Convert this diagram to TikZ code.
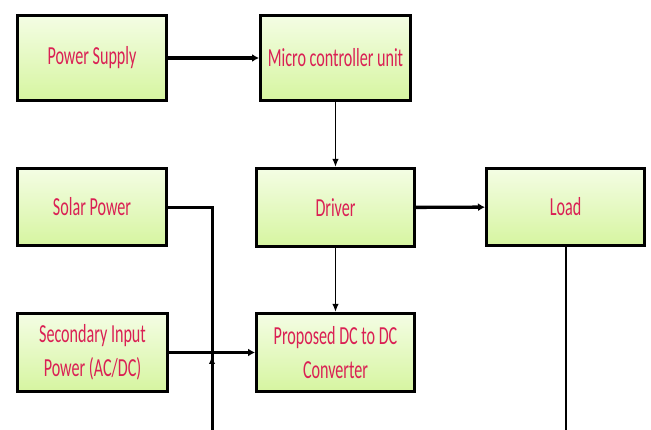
\documentclass[tikz,border=0pt]{standalone}
\usepackage{fontspec}
\newfontfamily\lbl[FakeStretch=0.62]{Carlito}
\usetikzlibrary{arrows.meta,shadows}
\definecolor{txt}{RGB}{218,32,84}
\definecolor{topg}{RGB}{244,253,228}
\definecolor{botg}{RGB}{214,245,160}
\tikzset{
  blk/.style={draw=black,line width=3pt,top color=topg,bottom color=botg,
    drop shadow={shadow xshift=1.5pt,shadow yshift=-1.5pt,opacity=0.25,fill=black!60},
    font=\lbl\fontsize{26}{34}\selectfont,text=txt,align=center,inner sep=0pt},
  thickarr/.style={line width=3.4pt,-{Latex[length=7pt,width=8pt]}},
  thinarr/.style={line width=1.8pt,-{Latex[length=8pt,width=6.5pt]}},
  thickln/.style={line width=3pt},
  thinln/.style={line width=2pt}
}
\begin{document}
\begin{tikzpicture}[x=1pt,y=-1pt]
\useasboundingbox (0,0) rectangle (651,430);
\begin{scope}
\clip (0,0) rectangle (651,430);
\node[blk,minimum width=149pt,minimum height=85pt] (ps) at (92,58) {Power Supply};
\node[blk,minimum width=150pt,minimum height=85pt] (mcu) at (335.5,58) {Micro controller unit};
\node[blk,minimum width=149pt,minimum height=77pt] (sol) at (92,207) {Solar Power};
\node[blk,minimum width=158pt,minimum height=78pt] (drv) at (335.5,207.5) {Driver};
\node[blk,minimum width=158pt,minimum height=77pt] (load) at (565.5,207) {Load};
\node[blk,minimum width=150pt,minimum height=78pt] (sec) at (92.5,352.5) {Secondary Input\\Power (AC/DC)};
\node[blk,minimum width=158pt,minimum height=78pt] (conv) at (335.5,352.5) {Proposed DC to DC\\Converter};
\coordinate (sj) at (212,208);
\coordinate (sb) at (212,440);
\coordinate (lb) at (565.5,440);
\coordinate (fj) at (212,356);
\draw[thickarr] (ps) -- (mcu);
\draw[thinarr] (mcu) -- (drv);
\draw[thickarr] (drv) -- (load);
\draw[thinarr] (drv) -- (conv);
\draw[thickarr] (sec) -- (conv);
\draw[thickln] (sol.east |- sj) -- (sj) -- (sb);
\draw[thinarr] (sb) -- (fj);
\draw[thinln] (load.south) -- (lb);
\end{scope}
\end{tikzpicture}
\end{document}
